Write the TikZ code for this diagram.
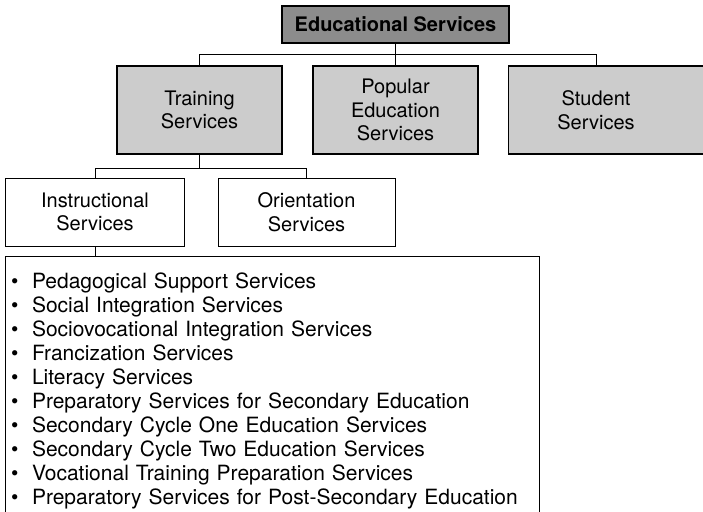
\documentclass[tikz,border=0pt]{standalone}
\usepackage{fontspec}
\setmainfont{TeX Gyre Heros}
\newcommand{\listdot}{\makebox[22pt][l]{\hspace{1pt}\textbullet}}
\begin{document}
\begin{tikzpicture}[x=1pt, y=-1pt, line width=0.8pt,
    every node/.style={font=\fontsize{20}{23.5}\selectfont, align=center, inner sep=0pt},
    headbox/.style={draw, line width=1.2pt, fill=black!45, minimum width=227pt, minimum height=37pt, font=\fontsize{20}{23.5}\selectfont\bfseries},
    unitbox/.style={draw, line width=1.2pt, fill=black!20, minimum width=165pt, minimum height=88pt},
    subbox/.style={draw, line width=1pt, fill=white, minimum height=68pt},
    listbox/.style={draw, line width=1pt, align=left, text width=525pt, inner xsep=4.5pt, inner ysep=16pt, font=\fontsize{21}{24}\selectfont}]
        \useasboundingbox (0,0) rectangle (703,511);
        \node [headbox] (educ) at (395.5,24.5) {Educational Services};
        \node [unitbox] (train) at (199.5,110) {Training\\Services};
        \node [unitbox] (popular) at (395.5,110) {Popular\\Education\\Services};
        \node [unitbox, minimum width=220pt, anchor=west] (student) at (508,110) {};
        \node (studenttxt) at (596,110) {Student\\Services};
        \node [subbox, minimum width=179pt] (instr) at (95,212) {Instructional\\Services};
        \node [subbox, minimum width=177pt] (orient) at (306.5,212) {Orientation\\Services};
        \node [listbox, anchor=north west] (instrlist) at (5,256) {\listdot Pedagogical Support Services\\
            \listdot Social Integration Services\\
            \listdot Sociovocational Integration Services\\
            \listdot Francization Services\\
            \listdot Literacy Services\\
            \listdot Preparatory Services for Secondary Education\\
            \listdot Secondary Cycle One Education Services\\
            \listdot Secondary Cycle Two Education Services\\
            \listdot Vocational Training Preparation Services\\
            \listdot Preparatory Services for Post-Secondary Education};
        \coordinate (bus) at (395.5,54);
        \coordinate (trainbus) at (199.5,168);
        \draw (educ.south) -- (bus);
        \draw (train.north) |- (bus);
        \draw (popular.north) -- (bus);
        \draw (studenttxt |- student.north) |- (bus);
        \draw (train.south) -- (trainbus);
        \draw (instr.north) |- (trainbus);
        \draw (orient.north) |- (trainbus);
        \draw (instr.south) -- (instr.south |- instrlist.north);
\end{tikzpicture}
\end{document}
